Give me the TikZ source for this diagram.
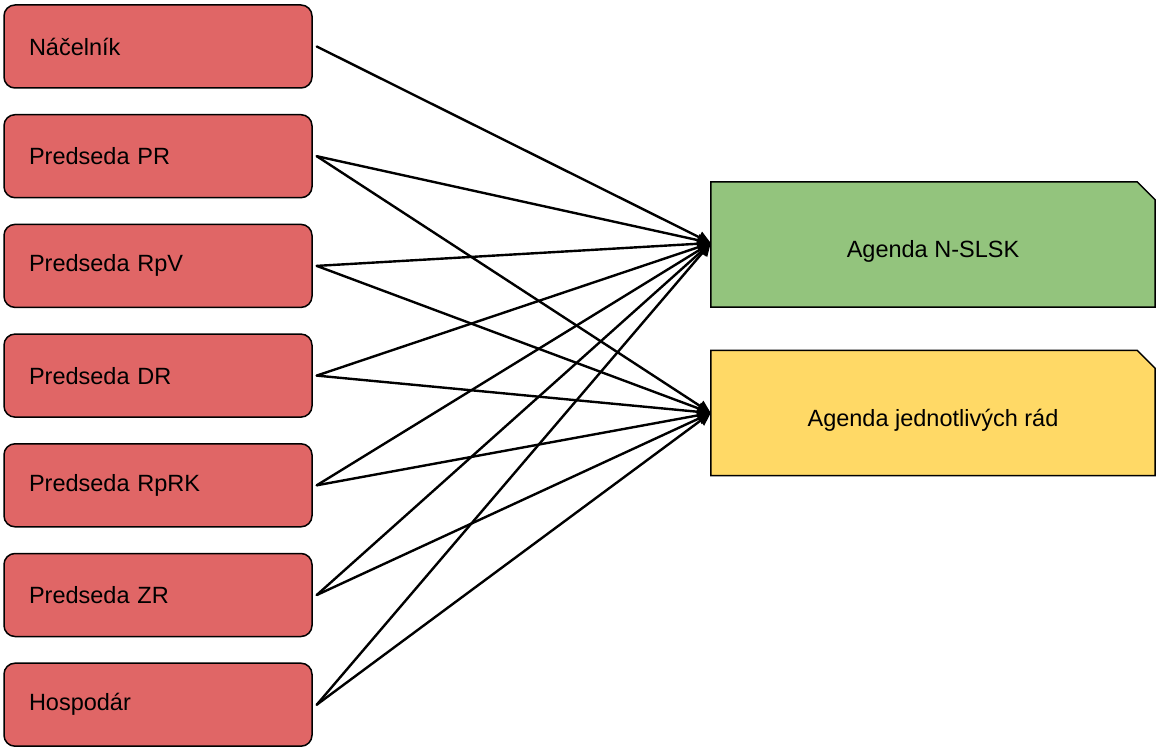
\documentclass[tikz,border=0pt]{standalone}
\usepackage{fontspec}
\setmainfont{Liberation Sans}
\usetikzlibrary{positioning,arrows.meta,backgrounds}
\definecolor{redfill}{HTML}{E06666}
\definecolor{greenfill}{HTML}{93C47D}
\definecolor{yellowfill}{HTML}{FFD966}
\begin{document}
\begin{tikzpicture}[x=1pt,y=-1pt,line cap=round,>={Triangle[length=13pt,width=12pt]},
    font=\fontsize{23.5}{28}\selectfont,
    role/.style={draw,line width=1.5pt,fill=redfill,rounded corners=11pt,
      text width=258pt,inner xsep=25pt,inner ysep=0pt,minimum height=83pt,align=left},
    agenda/.style={minimum width=444pt,minimum height=125pt,inner sep=0pt,
      text height=27pt,text depth=0pt},
    link/.style={->,line width=2.4pt}]
      % page size
      \useasboundingbox (0,0) rectangle (1159,751);
      % the roles on the left
      \node [role] (nacelnik) at (158,46.5) {Náčelník};
      \node [role,below=25.2pt of nacelnik] (pr) {Predseda PR};
      \node [role,below=25.2pt of pr] (rpv) {Predseda RpV};
      \node [role,below=25.2pt of rpv] (dr) {Predseda DR};
      \node [role,below=25.2pt of dr] (rprk) {Predseda RpRK};
      \node [role,below=25.2pt of rprk] (zr) {Predseda ZR};
      \node [role,below=25.2pt of zr] (hospodar) {Hospodár};
      % the two agendas, cards with a cut corner
      \node [agenda] (nslsk) at (933,244.5) {Agenda N-SLSK};
      \node [agenda] (rady) at (933,413) {Agenda jednotlivých rád};
      \begin{scope}[on background layer]
        \foreach \card/\col in {nslsk/greenfill,rady/yellowfill}
          \draw [line width=1.5pt,fill=\col,line join=miter] (\card.south west) -- (\card.north west)
            -- ([xshift=-18pt]\card.north east) -- ([yshift=-18pt]\card.north east)
            -- (\card.south east) -- cycle;
      \end{scope}
      % each role goes to N-SLSK
      \foreach \role in {nacelnik,pr,rpv,dr,rprk,zr,hospodar}
        \draw [link] ([xshift=4pt]\role.east) -- ([yshift=1.5pt]nslsk.west);
      % all but the chief go to the single orders too
      \foreach \role in {pr,rpv,dr,rprk,zr,hospodar}
        \draw [link] ([xshift=4pt]\role.east) -- (rady.west);
\end{tikzpicture}
\end{document}
